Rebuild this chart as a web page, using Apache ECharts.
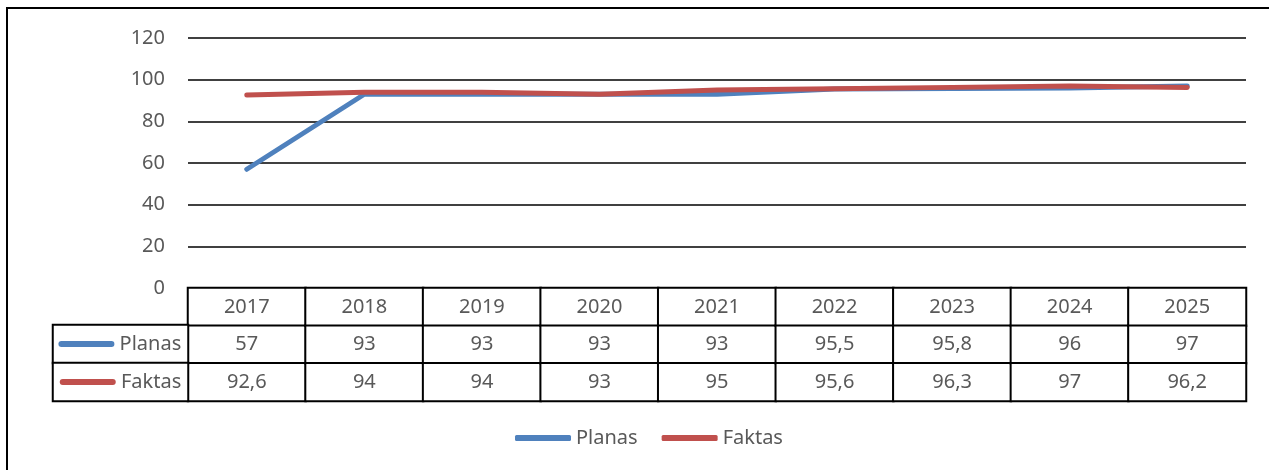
<!DOCTYPE html>
<html>
<head>
<meta charset="utf-8">
<script src="https://cdn.jsdelivr.net/npm/echarts@6/dist/echarts.min.js"></script>
<style>
  html, body { margin: 0; padding: 0; background: #fff; }
  #chart { width: 1269px; height: 470px; }
</style>
</head>
<body>
<div id="chart"></div>
<script>
var years = ['2017', '2018', '2019', '2020', '2021', '2022', '2023', '2024', '2025'];
var planas = [57, 93, 93, 93, 93, 95.5, 95.8, 96, 97];
var faktas = [92.6, 94, 94, 93, 95, 95.6, 96.3, 97, 96.2];
var seriesNames = ['Planas', 'Faktas'];
var rowNames = ['metai', 'Planas', 'Faktas'];

var BLUE = '#4F81BD';
var RED = '#C0504D';
var TEXT = '#595959';
var FONT = '"Noto Sans", "Open Sans", sans-serif';

function fmt(v) {
    return String(v).replace('.', ',');
}

// table cells: [column, row, value]
var tableCells = [];
years.forEach(function (y, i) {
    tableCells.push([i, 0, Number(y)]);
    tableCells.push([i, 1, planas[i]]);
    tableCells.push([i, 2, faktas[i]]);
});

var chart = echarts.init(document.getElementById('chart'));

var option = {
    animation: false,
    textStyle: { fontFamily: FONT },
    graphic: [{
        type: 'rect',
        shape: { x: 7, y: 8, width: 1300, height: 500 },
        style: { fill: 'none', stroke: '#000', lineWidth: 2 },
        silent: true
    }],
    legend: {
        data: seriesNames,
        bottom: 17,
        left: 510,
        icon: 'roundRect',
        itemWidth: 56,
        itemHeight: 6,
        itemGap: 24,
        textStyle: { color: TEXT, fontSize: 20, fontFamily: FONT }
    },
    grid: [
        { left: 188, right: 23, top: 38, height: 250 },
        { left: 188, right: 23, top: 288, height: 113 },
        { left: 53, width: 135, top: 325, height: 76 }
    ],
    xAxis: [
        {
            gridIndex: 0, type: 'category', data: years, boundaryGap: true,
            axisLine: { show: false }, axisTick: { show: false }, axisLabel: { show: false }
        },
        {
            gridIndex: 1, type: 'category', data: years,
            axisLine: { show: false }, axisTick: { show: false }, axisLabel: { show: false }
        },
        {
            gridIndex: 2, type: 'category', data: ['x'],
            axisLine: { show: false }, axisTick: { show: false }, axisLabel: { show: false }
        }
    ],
    yAxis: [
        {
            gridIndex: 0, type: 'value', min: 0, max: 120, interval: 20,
            axisLine: { show: false }, axisTick: { show: false },
            axisLabel: { color: TEXT, fontSize: 20, margin: 23, fontFamily: FONT },
            splitLine: { lineStyle: { color: '#000', width: 1.5 } }
        },
        {
            gridIndex: 1, type: 'category', data: rowNames, inverse: true,
            axisLine: { show: false }, axisTick: { show: false }, axisLabel: { show: false }
        },
        {
            gridIndex: 2, type: 'category', data: seriesNames, inverse: true,
            axisLine: { show: false }, axisTick: { show: false }, axisLabel: { show: false }
        }
    ],
    series: [
        {
            name: 'Planas', type: 'line', xAxisIndex: 0, yAxisIndex: 0,
            data: planas, showSymbol: false, symbol: 'none',
            lineStyle: { color: BLUE, width: 5, cap: 'round', join: 'round' },
            itemStyle: { color: BLUE }
        },
        {
            name: 'Faktas', type: 'line', xAxisIndex: 0, yAxisIndex: 0,
            data: faktas, showSymbol: false, symbol: 'none',
            lineStyle: { color: RED, width: 5, cap: 'round', join: 'round' },
            itemStyle: { color: RED }
        },
        {
            type: 'heatmap', xAxisIndex: 1, yAxisIndex: 1,
            data: tableCells,
            itemStyle: { color: '#fff', borderColor: '#000', borderWidth: 2 },
            label: {
                show: true, color: TEXT, fontSize: 20, fontFamily: FONT,
                formatter: function (p) { return fmt(p.value[2]); }
            },
            emphasis: { disabled: true }
        },
        {
            type: 'heatmap', xAxisIndex: 2, yAxisIndex: 2,
            data: [[0, 0, 0], [0, 1, 1]],
            itemStyle: { color: '#fff', borderColor: '#000', borderWidth: 2 },
            label: {
                show: true, position: 'insideRight', distance: 8,
                color: TEXT, fontSize: 20, fontFamily: FONT,
                formatter: function (p) {
                    return (p.value[1] === 0 ? '{b|}' : '{r|}') + ' ' + seriesNames[p.value[1]];
                },
                rich: {
                    b: { width: 56, height: 6, backgroundColor: BLUE, borderRadius: 3 },
                    r: { width: 56, height: 6, backgroundColor: RED, borderRadius: 3 }
                }
            },
            emphasis: { disabled: true }
        }
    ]
};

option && chart.setOption(option);
</script>
</body>
</html>
